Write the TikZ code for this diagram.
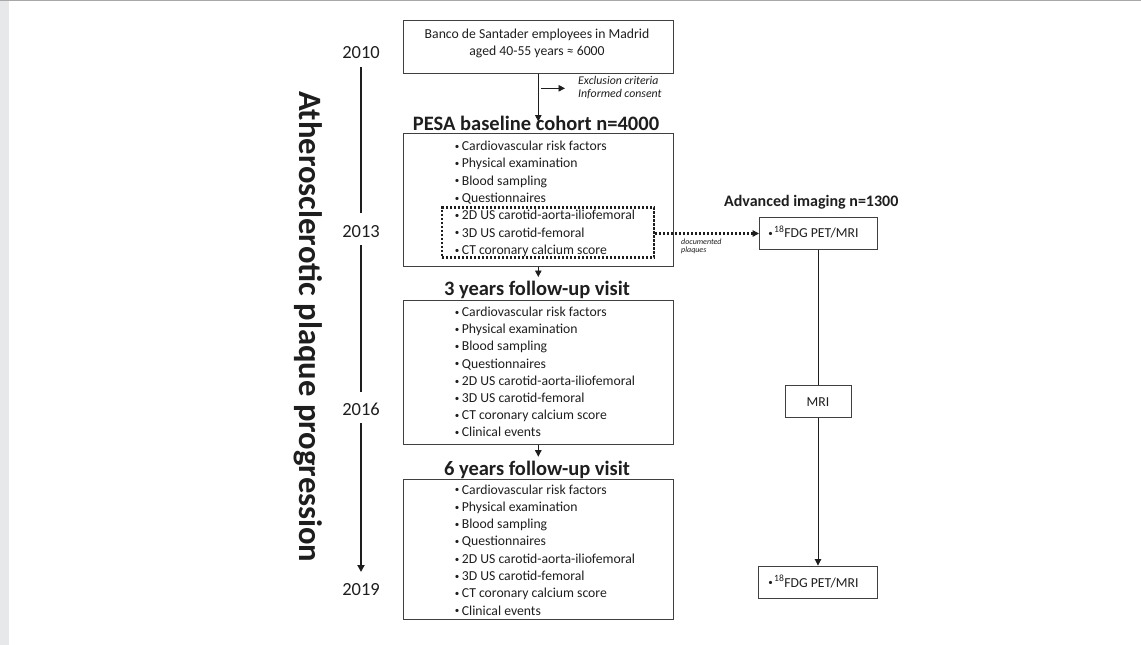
\documentclass[tikz,border=0pt]{standalone}
\usepackage{fontspec}
\setmainfont{Carlito}
\usetikzlibrary{arrows.meta}
\definecolor{txt}{HTML}{1E1E1E}
\definecolor{edge}{HTML}{404040}
\definecolor{strip}{HTML}{E7E8EA}
\definecolor{topline}{HTML}{A8A8A8}
\newcommand{\bl}{\makebox[7.7pt][l]{\hspace{0.6pt}\raisebox{1.2pt}{\fontsize{9}{10}\selectfont •}}}
\begin{document}
\begin{tikzpicture}[x=1pt,y=-1pt,
  box/.style={draw=edge,line width=1pt,rectangle,inner sep=0pt},
  dotbox/.style={draw=txt,line width=2.2pt,dash pattern=on 2.1pt off 1.9pt,rectangle,inner sep=0pt},
  item/.style={anchor=base west,inner sep=0pt,text=txt,font=\fontsize{13.7}{17.3}\selectfont},
  plain/.style={anchor=base,inner sep=0pt,text=txt,font=\fontsize{13.7}{17.3}\selectfont},
  head/.style={anchor=base,inner sep=0pt,text=txt,font=\bfseries\fontsize{20.5}{24}\selectfont},
  subhead/.style={anchor=base,inner sep=0pt,text=txt,font=\bfseries\fontsize{16}{19}\selectfont},
  year/.style={anchor=base,inner sep=0pt,text=txt,font=\fontsize{18.5}{22}\selectfont},
  note/.style={anchor=base west,inner sep=0pt,text=txt,font=\itshape\fontsize{11.8}{13}\selectfont},
  tiny/.style={anchor=base west,inner sep=0pt,text=txt,font=\itshape\fontsize{8}{9}\selectfont},
  arr/.style={-{Triangle[width=6.5pt,length=6.5pt]},line width=0.9pt,draw=txt},
  tl/.style={line width=2pt,draw=txt},
  dotarr/.style={-{Triangle[width=6.5pt,length=6.5pt]},line width=2.2pt,dash pattern=on 2.1pt off 1.9pt,draw=txt}
]
\useasboundingbox (0,0) rectangle (1141,645);
\fill[strip] (0,0) rectangle (8.5,645);
\draw[topline,line width=1pt] (0,0.5) -- (1141,0.5);

% title
\node[anchor=base west,rotate=-90,inner sep=0pt,text=txt,font=\bfseries\fontsize{32.6}{38}\selectfont] (title) at (299,91) {Atherosclerotic plaque progression};

% timeline
\node[year] (y2010) at (361,58) {2010};
\node[year] (y2013) at (361,237) {2013};
\node[year] (y2016) at (361,415) {2016};
\node[year] (y2019) at (361,595) {2019};
\coordinate (t1a) at (361,67);
\coordinate (t1b) at (361,213);
\coordinate (t2a) at (361,245);
\coordinate (t2b) at (361,392);
\coordinate (t3a) at (361,423);
\coordinate (t3b) at (361,572);
\draw[tl] (t1a) -- (t1b);
\draw[tl] (t2a) -- (t2b);
\draw[tl,-{Triangle[width=7pt,length=7pt]}] (t3a) -- (t3b);

% top box
\node[box,minimum width=270pt,minimum height=53pt] (top) at (538,46.5) {};
\node[plain] (top1) at (537,38.5) {Banco de Santader employees in Madrid};
\node[plain] (top2) at (537,55.2) {aged 40-55 years ≈ 6000};

\coordinate (pesatip) at (538.3,121.5);
\draw[arr] (top.south -| pesatip) -- (pesatip);
\coordinate (exs) at (541,88.3);
\coordinate (exe) at (565,88.3);
\draw[arr] (exs) -- (exe);
\node[note] (ex1) at (578,84) {Exclusion criteria};
\node[note] (ex2) at (578,97.3) {Informed consent};

% PESA
\node[head] (pesah) at (536,130) {PESA baseline cohort n=4000};
\node[box,minimum width=270pt,minimum height=132.5pt] (pesa) at (538,199.75) {};
\foreach \t [count=\i from 0] in {Cardiovascular risk factors,Physical examination,Blood sampling,Questionnaires,2D US carotid-aorta-iliofemoral,3D US carotid-femoral,CT coronary calcium score}
  \node[item] (p\i) at (454,150.5+17.33*\i) {\bl\t};
\node[dotbox,minimum width=212pt,minimum height=50pt] (dots) at (548,232.5) {};

\coordinate (yr3tip) at (538.3,277);
\draw[arr] (pesa.south -| yr3tip) -- (yr3tip);

% 3 years
\node[head] (yr3h) at (537,295.5) {3 years follow-up visit};
\node[box,minimum width=270pt,minimum height=143.5pt] (yr3) at (538,372.25) {};
\foreach \t [count=\i from 0] in {Cardiovascular risk factors,Physical examination,Blood sampling,Questionnaires,2D US carotid-aorta-iliofemoral,3D US carotid-femoral,CT coronary calcium score,Clinical events}
  \node[item] (q\i) at (454,316.7+17.14*\i) {\bl\t};

\coordinate (yr6tip) at (538.3,456.7);
\draw[arr] (yr3.south -| yr6tip) -- (yr6tip);

% 6 years
\node[head] (yr6h) at (537,475) {6 years follow-up visit};
\node[box,minimum width=270pt,minimum height=140pt] (yr6) at (538,549) {};
\foreach \t [count=\i from 0] in {Cardiovascular risk factors,Physical examination,Blood sampling,Questionnaires,2D US carotid-aorta-iliofemoral,3D US carotid-femoral,CT coronary calcium score,Clinical events}
  \node[item] (r\i) at (454,494+17.3*\i) {\bl\t};

% advanced imaging
\node[subhead] (advh) at (811.3,206.5) {Advanced imaging n=1300};
\node[box,minimum width=118pt,minimum height=32pt] (fdg1) at (818.5,233.5) {};
\node[item] (fdg1t) at (767.5,237.5) {\makebox[6.5pt][l]{\hspace{0.6pt}\raisebox{1.2pt}{\fontsize{9}{10}\selectfont •}}\textsuperscript{18}FDG PET/MRI};
\node[box,minimum width=66pt,minimum height=31.6pt] (mri) at (818,401.5) {};
\node[plain] (mrit) at (818,406.5) {MRI};
\node[box,minimum width=118.7pt,minimum height=32.3pt] (fdg2) at (818.3,582.2) {};
\node[item] (fdg2t) at (767.5,587) {\makebox[6.5pt][l]{\hspace{0.6pt}\raisebox{1.2pt}{\fontsize{9}{10}\selectfont •}}\textsuperscript{18}FDG PET/MRI};

\draw[dotarr] (dots.east |- fdg1.west) -- (fdg1.west);
\node[tiny] (doc1) at (681,244) {documented};
\node[tiny] (doc2) at (681,252) {plaques};

\draw[line width=0.9pt,draw=txt] (fdg1.south -| mri.north) -- (mri.north);
\draw[arr] (mri.south) -- (mri.south |- fdg2.north);
\end{tikzpicture}
\end{document}
